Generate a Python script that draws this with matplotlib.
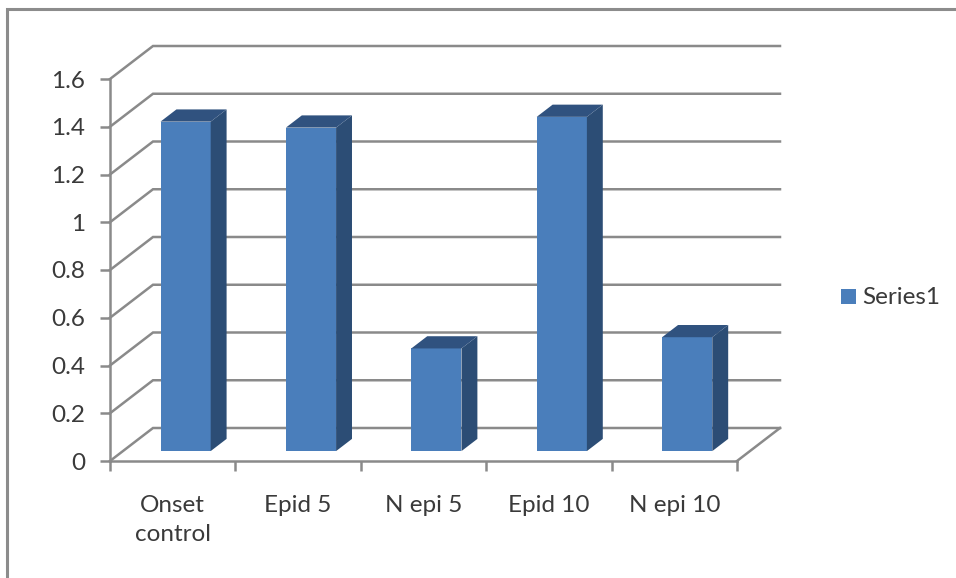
import matplotlib
matplotlib.use("Agg")
import matplotlib.pyplot as plt
from matplotlib.patches import Polygon, Rectangle
from matplotlib.lines import Line2D

categories = ["Onset\ncontrol", "Epid 5", "N epi 5", "Epid 10", "N epi 10"]
values = [1.38, 1.355, 0.43, 1.40, 0.477]
y_ticks = [0, 0.2, 0.4, 0.6, 0.8, 1, 1.2, 1.4, 1.6]
y_labels = ["0", "0.2", "0.4", "0.6", "0.8", "1", "1.2", "1.4", "1.6"]

W, H = 956, 578
GRID = "#8a8a8a"
FRONT = "#4a7ebb"
SIDE = "#2c4d75"
TOP = "#30527f"
TEXT = "#3a3a3a"

# one unit of depth moves a point this far in data units
DEPTH_X = 43 / 125.4
DEPTH_Y = 33 / 238.75


def proj(x, y, d):
    return x + d * DEPTH_X, y + d * DEPTH_Y


def main():
    plt.rcParams["font.family"] = ["Lato", "DejaVu Sans"]
    fig = plt.figure(figsize=(W / 100, H / 100), dpi=100)

    # outer chart frame: only the top and left edges are visible
    fig.add_artist(Line2D([6.5 / W, 6.5 / W, 1], [0, 1 - 9 / H, 1 - 9 / H], transform=fig.transFigure,
                          color="#8c8c8c", lw=2.2, zorder=-1, solid_joinstyle="miter"))

    # axes box is the front plane of the 3-d chart
    ax = fig.add_axes([110 / W, 1 - 461 / H, 627 / W, 382 / H])
    ax.set_xlim(0, 5)
    ax.set_ylim(0, 1.6)
    ax.patch.set_alpha(0)
    for s in ["top", "right"]:
        ax.spines[s].set_visible(False)
    for s in ["left", "bottom"]:
        ax.spines[s].set_color(GRID)
        ax.spines[s].set_linewidth(1.8)

    # back wall gridlines with their slanted side-wall and floor edges
    for t in y_ticks:
        x0, y0 = proj(0, t, 0)
        x1, y1 = proj(0, t, 1)
        x2, y2 = proj(5, t, 1)
        ax.plot([x0, x1, x2], [y0, y1, y2], color=GRID, lw=1.8, clip_on=False, zorder=1,
                solid_joinstyle="miter")
    x1, y1 = proj(5, 0, 0)
    x2, y2 = proj(5, 0, 1)
    ax.plot([x1, x2], [y1, y2], color=GRID, lw=1.8, clip_on=False, zorder=1)

    # bars sit a little behind the front plane
    d0, d1 = 0.3, 0.67
    half = 0.2
    for i, v in enumerate(values):
        c = i + 0.5
        ax.add_patch(Polygon([proj(c - half, 0, d0), proj(c + half, 0, d0),
                              proj(c + half, v, d0), proj(c - half, v, d0)],
                             fc=FRONT, ec="none", clip_on=False, zorder=3))
        ax.add_patch(Polygon([proj(c + half, 0, d0), proj(c + half, 0, d1),
                              proj(c + half, v, d1), proj(c + half, v, d0)],
                             fc=SIDE, ec="none", clip_on=False, zorder=3))
        ax.add_patch(Polygon([proj(c - half, v, d0), proj(c + half, v, d0),
                              proj(c + half, v, d1), proj(c - half, v, d1)],
                             fc=TOP, ec="none", clip_on=False, zorder=3))

    ax.set_yticks(y_ticks)
    ax.set_yticklabels(y_labels)
    ax.set_xticks(range(6))
    ax.set_xticklabels([""] * 6)
    ax.tick_params(axis="y", length=7, width=1.8, color=GRID, labelcolor=TEXT, labelsize=17.5, pad=11)
    ax.tick_params(axis="x", length=7, width=1.8, color=GRID)
    for i, name in enumerate(categories):
        ax.annotate(name, (i + 0.5, 0), xytext=(0, -24.5), textcoords="offset points", ha="center", va="top",
                    color=TEXT, fontsize=17.5, linespacing=1.45, annotation_clip=False)

    # legend
    fig.add_artist(Rectangle((841 / W, 1 - 304 / H), 15 / W, 15 / H, transform=fig.transFigure,
                             fc=FRONT, ec="none"))
    fig.text(862 / W, 1 - 297 / H, "Series1", color=TEXT, fontsize=17.5, va="center", ha="left")

    fig.savefig("out.png", dpi=100)


if __name__ == "__main__":
    main()
